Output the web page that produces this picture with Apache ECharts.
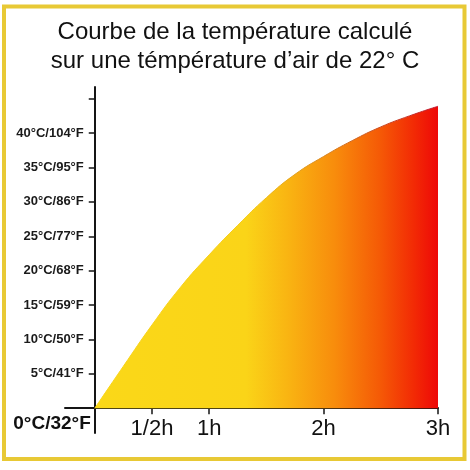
<!DOCTYPE html>
<html>
<head>
<meta charset="utf-8">
<script src="https://cdn.jsdelivr.net/npm/echarts@6/dist/echarts.min.js"></script>
<style>
html,body{margin:0;padding:0;background:#fff;}
#chart{width:470px;height:470px;}
</style>
</head>
<body>
<div id="chart"></div>
<script>
// ---- data ----
const titleLines = ['Courbe de la température calculé', 'sur une témpérature d’air de 22° C'];
const hours = [0, 0.25, 0.5, 0.75, 1.0, 1.25, 1.5, 1.75, 2.0, 2.25, 2.5, 2.75, 3.0];
const temps = [0, 6.1, 12.1, 17.6, 22.3, 26.6, 30.6, 34.0, 36.6, 38.9, 40.9, 42.5, 43.9];
const xTickValues = [0.5, 1, 2, 3];
const xTickLabels = ['1/2h', '1h', '2h', '3h'];
const yTickValues = [0, 5, 10, 15, 20, 25, 30, 35, 40];
const yTickLabels = ['0°C/32°F', '5°C/41°F', '10°C/50°F', '15°C/59°F', '20°C/68°F', '25°C/77°F', '30°C/86°F', '35°C/95°F', '40°C/104°F'];
const yTickMarks = [5, 10, 15, 20, 25, 30, 35, 40, 45];

const chart = echarts.init(document.getElementById('chart'), null, {renderer: 'canvas'});
const axisColor = '#151515';
const font = 'Liberation Sans';

const X_MIN = -0.26, X_MAX = 3, Y_MIN = -3.6, Y_MAX = 46.7;
const G_LEFT = 65, G_RIGHT = 32, G_TOP = 87, G_BOTTOM = 37;
// shift axes so they cross at the origin (value 0 of the other axis)
const plotW = 470 - G_LEFT - G_RIGHT, plotH = 470 - G_TOP - G_BOTTOM;
const xAxisOffset = -(0 - Y_MIN) / (Y_MAX - Y_MIN) * plotH;
const yAxisOffset = -(0 - X_MIN) / (X_MAX - X_MIN) * plotW;

function labelFor(values, labels, v) {
  for (let i = 0; i < values.length; i++) {
    if (Math.abs(values[i] - v) < 1e-6) return labels[i];
  }
  return '';
}

const option = {
  animation: false,
  backgroundColor: '#ffffff',
  title: {
    text: titleLines.join('\n'),
    left: 'center',
    top: 13,
    textStyle: {
      fontFamily: font,
      fontSize: 24,
      fontWeight: 'normal',
      color: '#111',
      lineHeight: 29
    }
  },
  graphic: [{
    type: 'rect',
    shape: {x: 4, y: 6.5, width: 460.5, height: 452.5},
    style: {fill: 'none', stroke: '#e8c935', lineWidth: 4},
    silent: true,
    z: 100
  }],
  grid: {left: G_LEFT, right: G_RIGHT, top: G_TOP, bottom: G_BOTTOM, containLabel: false, outerBoundsMode: 'none'},
  xAxis: {
    type: 'value',
    min: X_MIN,
    max: X_MAX,
    position: 'bottom',
    offset: xAxisOffset,
    splitLine: {show: false},
    axisLine: {show: true, onZero: false, lineStyle: {color: axisColor, width: 2}},
    axisTick: {show: true, inside: false, length: 6, customValues: xTickValues, lineStyle: {color: axisColor, width: 1.5}},
    axisLabel: {
      customValues: xTickValues,
      margin: 10,
      fontFamily: font,
      fontSize: 22,
      color: '#111',
      formatter: v => labelFor(xTickValues, xTickLabels, v)
    }
  },
  yAxis: {
    type: 'value',
    min: Y_MIN,
    max: Y_MAX,
    position: 'left',
    offset: yAxisOffset,
    splitLine: {show: false},
    axisLine: {show: true, onZero: false, lineStyle: {color: axisColor, width: 2}},
    axisTick: {show: true, inside: false, length: 6, customValues: yTickMarks, lineStyle: {color: axisColor, width: 1.5}},
    axisLabel: {
      customValues: yTickValues,
      margin: 4,
      fontFamily: font,
      fontWeight: 'bold',
      fontSize: 13,
      color: '#1a1a1a',
      formatter: v => {
        const t = labelFor(yTickValues, yTickLabels, v);
        return Math.abs(v) < 1e-6 ? '{z|' + t + '}' : '{n|' + t + '}';
      },
      rich: {
        n: {fontFamily: font, fontSize: 13, fontWeight: 'bold', color: '#1a1a1a', padding: [0, 7, 0, 0]},
        z: {fontFamily: font, fontSize: 19, fontWeight: 'bold', color: '#111', padding: [31, 0, 0, 0]}
      }
    }
  },
  series: [{
    type: 'line',
    data: hours.map((h, i) => [h, temps[i]]),
    smooth: 0.5,
    showSymbol: false,
    lineStyle: {
      width: 1,
      color: new echarts.graphic.LinearGradient(0, 0, 1, 0, [
        {offset: 0, color: '#f9d61a'},
        {offset: 0.45, color: '#f4cc20'},
        {offset: 0.65, color: '#d88a20'},
        {offset: 0.85, color: '#c84020'},
        {offset: 1, color: '#c01838'}
      ])
    },
    areaStyle: {
      opacity: 1,
      color: new echarts.graphic.LinearGradient(0, 0, 1, 0, [
        {offset: 0, color: '#fad818'},
        {offset: 0.44, color: '#fad418'},
        {offset: 0.56, color: '#f9b512'},
        {offset: 0.7, color: '#f88c0c'},
        {offset: 0.83, color: '#f55a06'},
        {offset: 0.93, color: '#f22a05'},
        {offset: 1, color: '#ee0808'}
      ])
    }
  }]
};
chart.setOption(option);
</script>
</body>
</html>
